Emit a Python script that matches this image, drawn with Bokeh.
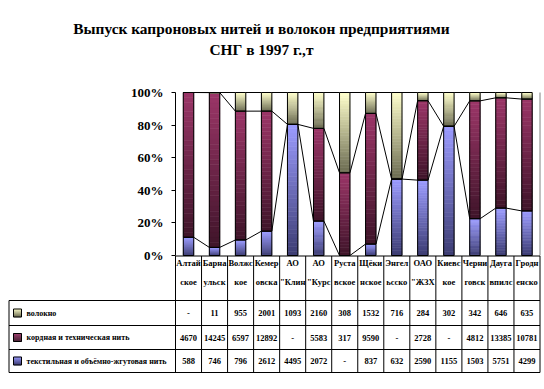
from bokeh.plotting import figure
from bokeh.models import Range1d, FixedTicker, PrintfTickFormatter
from bokeh.embed import file_html
from bokeh.resources import INLINE
from bokeh.core.properties import value

# ---------------- data ----------------
cat_line1 = ["Алтай", "Барна", "Волжс", "Кемер", "АО", "АО", "Руста", "Щёки",
             "Энгел", "ОАО", "Киевс", "Черни", "Дауга", "Гродн"]
cat_line2 = ["ское", "ульск", "кое", "овска", "\"Клин", "\"Курс", "вское", "нское",
             "ьсско", "\"ЖЗХ", "кое", "говск", "впилс", "енско"]
series_names = ["волокно", "кордная и техническая нить", "текстильная и объёмно-жгутовая нить"]
volokno = [None, 11, 955, 2001, 1093, 2160, 308, 1532, 716, 284, 302, 342, 646, 635]
kordnaya = [4670, 14245, 6597, 12892, None, 5583, 317, 9590, None, 2728, None, 4812, 13385, 10781]
tekstil = [588, 746, 796, 2612, 4495, 2072, None, 837, 632, 2590, 1155, 1503, 5751, 4299]
title_lines = ["Выпуск капроновых нитей и волокон предприятиями", "СНГ в 1997 г.,т"]
y_ticks = [0, 20, 40, 60, 80, 100]

# ---------------- styles ----------------
FONT = "Liberation Serif"
colors = {  # (top colour, bottom colour) of the gradient fill
    "volokno": ("#FFFFCC", "#6A6A50"),
    "kordnaya": ("#9C3668", "#3E1429"),
    "tekstil": ("#9C9CFF", "#3C3C72"),
}
NS = 30


def hex2rgb(h):
    h = h.lstrip("#")
    return tuple(int(h[i:i + 2], 16) for i in (0, 2, 4))


def mix(top, bot, f):
    a, b = hex2rgb(top), hex2rgb(bot)
    c = [round(b[i] + (a[i] - b[i]) * f) for i in range(3)]
    return "#%02x%02x%02x" % tuple(c)


def nz(v):
    return 0 if v is None else v


n = len(cat_line1)
tot = [nz(a) + nz(b) + nz(c) for a, b, c in zip(volokno, kordnaya, tekstil)]
p_tex = [100.0 * nz(c) / t for c, t in zip(tekstil, tot)]
p_kor = [100.0 * nz(c) / t for c, t in zip(kordnaya, tot)]
p_vol = [100.0 * nz(c) / t for c, t in zip(volokno, tot)]
lev1 = p_tex
lev2 = [a + b for a, b in zip(p_tex, p_kor)]
lev3 = [a + b for a, b in zip(lev2, p_vol)]

# ---------------- layout geometry (page pixels) ----------------
OX, OY = 0, 0              # canvas origin on the page
W, H = 542, 384
PLOT_L, PLOT_R = 175, 539.5
PLOT_T, PLOT_B = 92, 255
PX_PER_CAT = (PLOT_R - PLOT_L) / n
PX_PER_PCT = (PLOT_B - PLOT_T) / 100.0
BAR_W = 0.4


def tx(px):
    return (px - PLOT_L) / PX_PER_CAT


def ty(py):
    return py - OY


xl, xr = tx(OX), tx(OX + W)
yb = (PLOT_B - (OY + H)) / PX_PER_PCT
yt = (PLOT_B - OY) / PX_PER_PCT

p = figure(width=W, height=H, x_range=Range1d(xl, xr), y_range=Range1d(yb, yt),
           output_backend="svg", toolbar_location=None, title=None,
           min_border=0, min_border_left=0, min_border_right=0, min_border_top=0,
           min_border_bottom=0, x_axis_location=None, outline_line_color=None,
           background_fill_color="white", border_fill_color="white")
p.extra_y_ranges = {"px": Range1d(H, 0)}
p.xgrid.visible = False
p.ygrid.visible = False

ax = p.yaxis[0]
ax.fixed_location = 0
ax.bounds = (0, 100)
ax.ticker = FixedTicker(ticks=y_ticks)
ax.formatter = PrintfTickFormatter(format="%d%%")
ax.major_tick_in = 0
ax.major_tick_out = 4
ax.minor_tick_line_color = None
ax.axis_line_color = "black"
ax.major_tick_line_color = "black"
ax.major_label_text_font = FONT
ax.major_label_text_font_style = "bold"
ax.major_label_text_font_size = "13px"
ax.major_label_text_color = "black"
ax.major_label_standoff = 8

# ---------------- bars with gradient fill ----------------
gx, gb, gt, gc = [], [], [], []
ox, ob, ot = [], [], []
for i in range(n):
    segs = [(0, lev1[i], colors["tekstil"]),
            (lev1[i], lev2[i], colors["kordnaya"]),
            (lev2[i], lev3[i], colors["volokno"])]
    for lo, hi, (ctop, cbot) in segs:
        if hi - lo > 0:
            for k in range(NS):
                gx.append(i + 0.5)
                gb.append(lo + (hi - lo) * k / NS)
                gt.append(lo + (hi - lo) * (k + 1) / NS)
                gc.append(mix(ctop, cbot, (k + 0.5) / NS))
        ox.append(i + 0.5)
        ob.append(lo)
        ot.append(hi)

p.vbar(x=gx, bottom=gb, top=gt, width=BAR_W, fill_color=gc, line_color=gc, line_width=0.6)
p.vbar(x=ox, bottom=ob, top=ot, width=BAR_W, fill_color=None, line_color="black", line_width=1)

# plot-area right border
p.segment(x0=[n], y0=[0], x1=[n], y1=[100], line_color="#808080", line_width=1)

# series lines
sx0, sy0, sx1, sy1 = [], [], [], []
for lev in (lev1, lev2, lev3):
    for i in range(n - 1):
        sx0.append(i + 0.5 + BAR_W / 2)
        sy0.append(lev[i])
        sx1.append(i + 1.5 - BAR_W / 2)
        sy1.append(lev[i + 1])
p.segment(x0=sx0, y0=sy0, x1=sx1, y1=sy1, line_color="black", line_width=1)

# ---------------- title ----------------
p.text(x=[tx(261)] * 2, y=[ty(28), ty(48.5)], text=title_lines, y_range_name="px",
       text_align="center", text_baseline="middle", text_font=value(FONT),
       text_font_style="bold", text_font_size="15.4px", text_color="black")

# ---------------- data table ----------------
ROWS = [ty(300), ty(325), ty(349), ty(372)]
TOP = ty(255) + 0.5
LEFT = tx(8.5)
p.segment(x0=[0], y0=[TOP], x1=[n], y1=[TOP], y_range_name="px",
          line_color="black", line_width=1)
p.segment(x0=list(range(n + 1)), y0=[TOP] * (n + 1), x1=list(range(n + 1)),
          y1=[ROWS[-1]] * (n + 1), y_range_name="px", line_color="black", line_width=1)
p.segment(x0=[LEFT] * 4, y0=ROWS, x1=[n] * 4, y1=ROWS, y_range_name="px",
          line_color="black", line_width=1)
p.segment(x0=[LEFT], y0=[ROWS[0]], x1=[LEFT], y1=[ROWS[-1]], y_range_name="px",
          line_color="black", line_width=1)

FS = "8.5px"
cx = [i + 0.5 for i in range(n)]
p.text(x=cx, y=[ty(262)] * n, text=cat_line1, y_range_name="px",
       text_align="center", text_baseline="middle", text_font=value(FONT),
       text_font_style="bold", text_font_size=FS, text_color="black")
p.text(x=cx, y=[ty(281)] * n, text=cat_line2, y_range_name="px",
       text_align="center", text_baseline="middle", text_font=value(FONT),
       text_font_style="bold", text_font_size=FS, text_color="black")

row_data = [volokno, kordnaya, tekstil]
row_cols = [colors["volokno"], colors["kordnaya"], colors["tekstil"]]
for r, (vals, name, (ctop, cbot)) in enumerate(zip(row_data, series_names, row_cols)):
    yc = (ROWS[r] + ROWS[r + 1]) / 2.0
    p.text(x=cx, y=[yc] * n, text=["-" if v is None else str(v) for v in vals],
           y_range_name="px", text_align="center", text_baseline="middle",
           text_font=value(FONT), text_font_style="bold", text_font_size=FS,
           text_color="black")
    p.text(x=[tx(26)], y=[yc], text=[name], y_range_name="px", text_align="left",
           text_baseline="middle", text_font=value(FONT), text_font_style="bold",
           text_font_size="8px", text_color="black")
    kb, kt, kc = [], [], []
    for k in range(8):
        kt.append(yc - 4 + k)
        kb.append(yc - 4 + k + 1)
        kc.append(mix(ctop, cbot, 1 - (k + 0.5) / 8))
    p.quad(left=[tx(13)] * 8, right=[tx(21)] * 8, top=kt, bottom=kb, fill_color=kc,
           line_color=kc, line_width=0.5, y_range_name="px")
    p.quad(left=[tx(13)], right=[tx(21)], top=[yc - 4], bottom=[yc + 4], fill_color=None,
           line_color="black", line_width=1, y_range_name="px")

open("out.html", "w").write(file_html(p, INLINE))
